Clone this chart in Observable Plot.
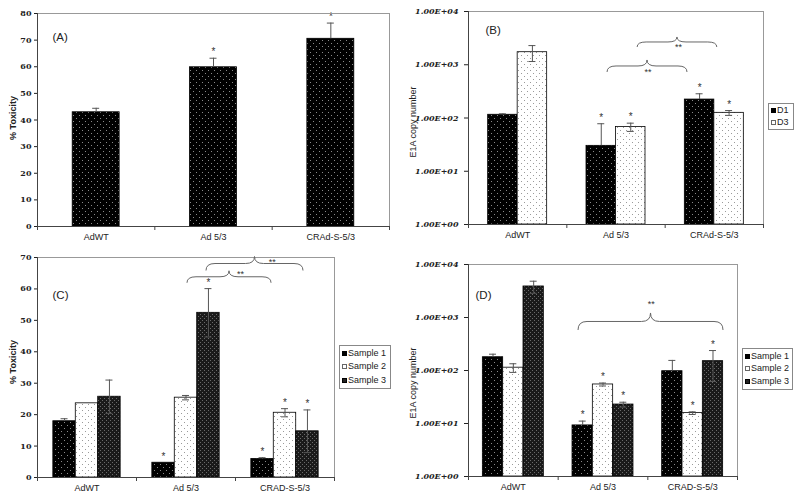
<!DOCTYPE html>
<html><head><meta charset="utf-8">
<script src="https://cdn.jsdelivr.net/npm/d3@7"></script>
<script src="https://cdn.jsdelivr.net/npm/@observablehq/plot@0.6"></script>
<style>
body{margin:0;background:#fff;}
#wrap{position:relative;width:800px;height:501px;overflow:hidden;background:#fff;font-family:"Liberation Sans",Arial,sans-serif;}
.panel{position:absolute;}
.ylab{position:absolute;white-space:nowrap;font-size:9px;color:#222;transform:translate(-50%,-50%) rotate(-90deg);}
.legend{position:absolute;border:1px solid #888;background:#fff;font-size:9px;color:#222;box-sizing:border-box;display:flex;flex-direction:column;justify-content:space-around;padding:1px 2px;}
.legend div{display:flex;align-items:center;white-space:nowrap;line-height:1;}
.sw{display:inline-block;width:5px;height:5px;margin-right:1px;box-sizing:border-box;}
</style></head>
<body>
<svg width="0" height="0" style="position:absolute">
 <defs>
  <pattern id="pDark" width="6" height="6" patternUnits="userSpaceOnUse">
   <rect width="6" height="6" fill="#000"/><rect x="1" y="1" width="1" height="1" fill="#8a8a8a"/><rect x="4" y="4" width="1" height="1" fill="#8a8a8a"/>
  </pattern>
  <pattern id="pLight" width="6" height="6" patternUnits="userSpaceOnUse">
   <rect width="6" height="6" fill="#fff"/><rect x="1" y="1" width="1" height="1" fill="#9a9a9a"/><rect x="4" y="4" width="1" height="1" fill="#9a9a9a"/>
  </pattern>
  <pattern id="pDense" width="4" height="4" patternUnits="userSpaceOnUse">
   <rect width="4" height="4" fill="#1a1a1a"/><rect x="0" y="0" width="1" height="1" fill="#6a6a6a"/><rect x="2" y="2" width="1" height="1" fill="#6a6a6a"/>
  </pattern>
 </defs>
</svg>
<div id="wrap"></div>
<script>
// ---------- data ----------
const catsAB = ["AdWT", "Ad 5/3", "CRAd-S-5/3"];
const catsCD = ["AdWT", "Ad 5/3", "CRAD-S-5/3"];
const aTicks = [0, 10, 20, 30, 40, 50, 60, 70, 80];
const cTicks = [0, 10, 20, 30, 40, 50, 60, 70];
const logTicks = [1, 10, 100, 1000, 10000];
const logTickLabels = ["1.00E+00", "1.00E+01", "1.00E+02", "1.00E+03", "1.00E+04"];

// (A) % Toxicity
const aToxicity = [42.9, 59.8, 70.5];
const aErr = [1.5, 3.4, 5.9];
const aStar = [false, true, true];

// (B) E1A copy number, D1 / D3
const bSeries = ["D1", "D3"];
const bD1 = [115, 30, 222];
const bD1Err = [5, 48, 63];
const bD1Star = [false, true, true];
const bD3 = [1720, 68, 125];
const bD3Err = [570, 12, 13];
const bD3Star = [false, true, true];

// (C) % Toxicity, samples
const cdSeries = ["Sample 1", "Sample 2", "Sample 3"];
const cS1 = [17.9, 4.7, 5.9];
const cS1Err = [0.8, 0, 0.4];
const cS1Star = [false, true, true];
const cS2 = [23.6, 25.4, 20.6];
const cS2Err = [0, 0.7, 1.3];
const cS2Star = [false, false, true];
const cS3 = [25.7, 52.4, 14.7];
const cS3Err = [5.3, 7.7, 6.8];
const cS3Star = [false, true, true];

// (D) E1A copy number, samples
const dS1 = [178, 9.2, 97];
const dS1Err = [25, 1.9, 58];
const dS1Star = [false, true, false];
const dS2 = [113, 54.5, 15.7];
const dS2Err = [21, 3.5, 0.9];
const dS2Star = [false, true, true];
const dS3 = [3850, 22.8, 150];
const dS3Err = [990, 2.4, 88];
const dS3Star = [false, true, true];

// significance braces (category-index units, value units)
const bBraces = [{from: 0.914, to: 1.727, at: 716, label: "**", labelAt: 1.33},
                 {from: 1.22, to: 2.03, at: 2110, label: "**", labelAt: 1.64}];
const cBraces = [{from: 1.015, to: 1.864, at: 61.8, label: "**", labelAt: 1.55},
                 {from: 1.207, to: 2.187, at: 65.7, label: "**", labelAt: 1.87}];
const dBraces = [{from: 0.727, to: 2.344, at: 569, label: "**", labelAt: 1.537}];

// ---------- helpers ----------
function buildRows(vals, errs, stars, fills, groupW) {
  const n = vals.length, bw = groupW / n, out = [];
  for (let i = 0; i < 3; i++) for (let j = 0; j < n; j++) {
    const v = vals[j][i], e = errs[j][i];
    const x1 = i - groupW / 2 + j * bw;
    out.push({x1, x2: x1 + bw, xc: x1 + bw / 2, v, e, lo: v - e > 0 ? v - e : v, hi: v + e, star: stars[j][i], fill: fills[j]});
  }
  return out;
}

function braceMark(braces, heights) {
  return (index, scales) => {
    const g = d3.create("svg:g").attr("fill", "none").attr("stroke", "#666").attr("stroke-width", 1);
    braces.forEach((b, k) => {
      const x0 = scales.x(b.from), x1 = scales.x(b.to), yb = scales.y(b.at), m = (x0 + x1) / 2;
      const h = heights[k], yh = yb - h / 2, yp = yb - h, r = Math.min(9, (x1 - x0) / 6);
      g.append("path").attr("d",
        `M${x0},${yb}Q${x0},${yh} ${x0 + r},${yh}L${m - r},${yh}Q${m},${yh} ${m},${yp}Q${m},${yh} ${m + r},${yh}L${x1 - r},${yh}Q${x1},${yh} ${x1},${yb}`);
    });
    return g.node();
  };
}

function panel(o) {
  const {rows, width, height, ml, mr, mt, mb, log, cats, yTicks, yDomain, label, ldx, ldy, braces, braceH, braceDy} = o;
  const unitPx = (width - ml - mr) / 3;
  const cap = 3.5 / unitPx;
  const base = log ? 1 : 0;
  const errRows = rows.filter(d => d.e > 0);
  const lowRows = errRows.filter(d => d.lo < d.v && d.fill !== "url(#pDark)");
  const marks = [
    Plot.rectY(rows, {x1: "x1", x2: "x2", y1: base, y2: "v", fill: "fill", stroke: "#000", strokeWidth: 0.8}),
    Plot.ruleX(errRows, {x: "xc", y1: d => d.fill === "url(#pDark)" ? d.v : d.lo, y2: "hi", stroke: "#555", strokeWidth: 1}),
    Plot.ruleY(errRows, {y: "hi", x1: d => d.xc - cap, x2: d => d.xc + cap, stroke: "#555", strokeWidth: 1}),
    Plot.ruleY(lowRows, {y: "lo", x1: d => d.xc - cap, x2: d => d.xc + cap, stroke: "#555", strokeWidth: 1}),
    Plot.text(rows.filter(d => d.star), {x: "xc", y: "hi", text: () => "*", dy: -6, fontSize: 10, fill: "#333"}),
    Plot.frame({stroke: "#999"}),
    Plot.ruleX([-0.5], {stroke: "#444"}),
    Plot.ruleY([base], {stroke: "#444"}),
    Plot.ruleX([-0.5, 0.5, 1.5, 2.5], {y1: base, y2: base, insetBottom: -4, stroke: "#444"}),
    Plot.text([label], {frameAnchor: "top-left", text: d => d, dx: ldx, dy: ldy, textAnchor: "start", fontSize: 11.5, fill: "#222"})
  ];
  if (braces) {
    marks.push(braceMark(braces, braceH));
    marks.push(Plot.text(braces, {x: "labelAt", y: "at", text: "label", dy: (braceDy), fontSize: 9, fill: "#333"}));
  }
  const svg = Plot.plot({
    width, height, marginLeft: ml, marginRight: mr, marginTop: mt, marginBottom: mb,
    style: {fontFamily: "'Liberation Sans', Arial, sans-serif", fontSize: "9px", color: "#222", background: "transparent"},
    x: {domain: [-0.5, 2.5], ticks: [0, 1, 2], tickFormat: i => cats[i], tickSize: 0, tickPadding: 7, label: null},
    y: log
      ? {type: "log", domain: yDomain, ticks: yTicks, tickFormat: d => logTickLabels[Math.round(Math.log10(d))], tickSize: 4, tickPadding: 6, label: null}
      : {domain: yDomain, ticks: yTicks, tickSize: 3, tickPadding: 3, label: null},
    marks
  });
  d3.select(svg).selectAll('[aria-label^="y-axis"] text')
    .style("font-weight", "bold").style("font-style", log ? "italic" : "normal")
    .style("font-size", "8px").style("font-family", "'DejaVu Serif', serif");
  return svg;
}

const wrap = document.getElementById("wrap");
function place(svg, left, top) {
  const d = document.createElement("div");
  d.className = "panel"; d.style.left = left + "px"; d.style.top = top + "px";
  d.appendChild(svg); wrap.appendChild(d);
}
function ylab(text, cx, cy, bold) {
  const d = document.createElement("div");
  d.className = "ylab"; d.textContent = text; d.style.left = cx + "px"; d.style.top = cy + "px";
  if (bold) d.style.fontWeight = "bold";
  wrap.appendChild(d);
}
function legend(items, left, top, w, h) {
  const d = document.createElement("div");
  d.className = "legend";
  Object.assign(d.style, {left: left + "px", top: top + "px", width: w + "px", height: h + "px"});
  for (const [name, sw] of items) {
    const row = document.createElement("div");
    const s = document.createElement("span"); s.className = "sw"; Object.assign(s.style, sw);
    row.appendChild(s); row.appendChild(document.createTextNode(name));
    d.appendChild(row);
  }
  wrap.appendChild(d);
}

// ---------- panels ----------
const rowsA = buildRows([aToxicity], [aErr], [aStar], ["url(#pDark)"], 0.4);
place(panel({rows: rowsA, width: 400, height: 250, ml: 37, mr: 11, mt: 13, mb: 24, log: false, cats: catsAB,
  yTicks: aTicks, yDomain: [0, 80], label: "(A)", ldx: 15, ldy: 19}), 0, 0);

const rowsB = buildRows([bD1, bD3], [bD1Err, bD3Err], [bD1Star, bD3Star], ["url(#pDark)", "url(#pLight)"], 0.6);
place(panel({rows: rowsB, width: 400, height: 250, ml: 68, mr: 37, mt: 11, mb: 26, log: true, cats: catsAB,
  yTicks: logTicks, yDomain: [1, 10000], label: "(B)", ldx: 17, ldy: 14,
  braces: bBraces, braceH: [12, 10], braceDy: d => bBraces.indexOf(d) === 0 ? -15 : -14}), 400, 0);

const rowsC = buildRows([cS1, cS2, cS3], [cS1Err, cS2Err, cS3Err], [cS1Star, cS2Star, cS3Star], ["url(#pDark)", "url(#pLight)", "url(#pDense)"], 0.68);
place(panel({rows: rowsC, width: 400, height: 251, ml: 37, mr: 66, mt: 7, mb: 24, log: false, cats: catsCD,
  yTicks: cTicks, yDomain: [0, 70], label: "(C)", ldx: 15, ldy: 33,
  braces: cBraces, braceH: [12, 14], braceDy: -9}), 0, 250);

const rowsD = buildRows([dS1, dS2, dS3], [dS1Err, dS2Err, dS3Err], [dS1Star, dS2Star, dS3Star], ["url(#pDark)", "url(#pLight)", "url(#pDense)"], 0.68);
place(panel({rows: rowsD, width: 400, height: 251, ml: 68, mr: 63, mt: 14, mb: 25, log: true, cats: catsCD,
  yTicks: logTicks, yDomain: [1, 10000], label: "(D)", ldx: 7, ldy: 26,
  braces: dBraces, braceH: [17], braceDy: -26}), 400, 250);

// ---------- axis titles & legends ----------
ylab("% Toxicity", 13, 118, true);
ylab("E1A copy number", 413, 122, false);
ylab("% Toxicity", 13, 362, true);
ylab("E1A copy number", 413, 383, false);

const swDark = {background: "#000", border: "1px solid #000"};
const swLight = {background: "#fff", border: "1px solid #666"};
const swDense = {background: "#222", border: "1px solid #000"};
legend([[bSeries[0], swDark], [bSeries[1], swLight]], 768, 103, 26, 27);
legend([[cdSeries[0], swDark], [cdSeries[1], swLight], [cdSeries[2], swDense]], 339, 345, 52, 44);
legend([[cdSeries[0], swDark], [cdSeries[1], swLight], [cdSeries[2], swDense]], 742, 348, 51, 42);
</script>
</body></html>
